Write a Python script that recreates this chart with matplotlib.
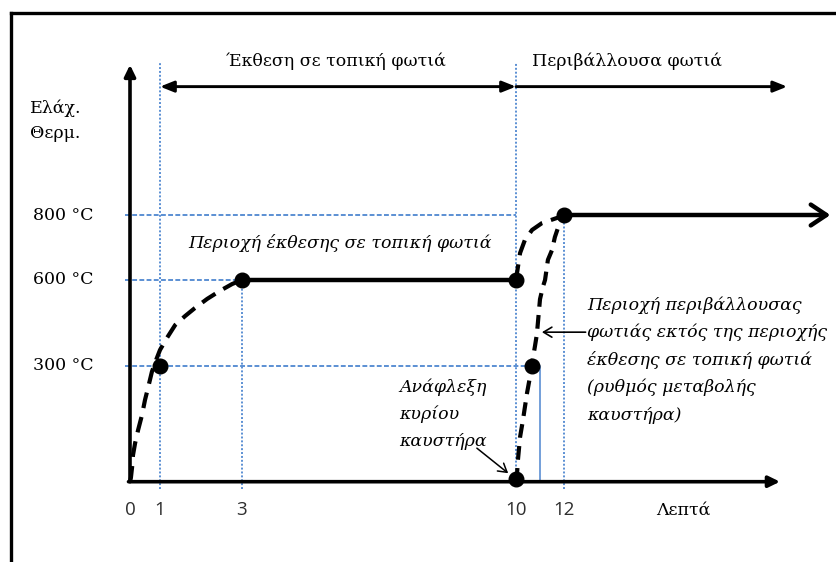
import numpy as np
import matplotlib
matplotlib.use('Agg')
import matplotlib.pyplot as plt
from matplotlib.lines import Line2D
from matplotlib.transforms import blended_transform_factory

# ---------------- data ----------------
minute_ticks = [0, 1, 3, 10, 12]
minute_labels = ['0', '1', '3', '10', '12']
temp_levels = [300, 600, 800]
temp_labels = ['300 °C', '600 °C', '800 °C']

# local fire exposure heating curve (minutes, °C)
local_heat_x = [0.0, 0.03, 0.07, 0.1, 0.17, 0.27, 0.4, 0.5, 0.6, 0.73, 0.87, 1.0,
                1.17, 1.37, 1.61, 1.85, 2.15, 2.46, 2.76, 3.0]
local_heat_y = [0, 10, 38, 69, 100, 134, 173, 212, 243, 285, 321, 356,
                398, 443, 474, 502, 534, 562, 586, 600]
# local plateau
local_plateau_x = [3, 10]
local_plateau_y = [600, 600]
# from local exposure to surrounding fire
local_to_env_x = [10.0, 10.08, 10.17, 10.37, 10.67, 11.08, 11.71, 12.0]
local_to_env_y = [600, 640, 683, 723, 754, 775, 791, 800]
# surrounding fire outside local area (burner ramp)
env_ramp_x = [10.0, 10.04, 10.08, 10.17, 10.29, 10.46, 10.58, 10.65, 10.79, 10.87,
              11.0, 11.12, 11.21, 11.33, 11.5, 11.62, 11.83, 12.0]
env_ramp_y = [0, 17, 56, 116, 160, 230, 271, 300, 369, 411,
              533, 576, 600, 662, 692, 732, 778, 800]
# surrounding plateau (ends in arrow)
env_plateau_x = [12, 23.1]
env_plateau_y = [800, 800]
# key points
key_x = [1, 3, 10, 10, 10.65, 12]
key_y = [300, 600, 600, 8, 300, 800]

# ---------------- scales (piecewise, as drawn) ----------------
W, H = 837, 562


def make_pw(src, dst):
    src = np.asarray(src, float)
    dst = np.asarray(dst, float)
    s0 = (dst[1] - dst[0]) / (src[1] - src[0])
    s1 = (dst[-1] - dst[-2]) / (src[-1] - src[-2])

    def f(v):
        v = np.asarray(v, float)
        out = np.interp(v, src, dst)
        out = np.where(v < src[0], dst[0] + (v - src[0]) * s0, out)
        out = np.where(v > src[-1], dst[-1] + (v - src[-1]) * s1, out)
        return out
    return f


x_knots_px = [130, 160, 242, 516, 564]
y_knots_px = [H - 481.7, H - 366, H - 280, H - 215]
fx = make_pw(minute_ticks, x_knots_px)
fx_inv = make_pw(x_knots_px, minute_ticks)
fy = make_pw([0] + temp_levels, y_knots_px)
fy_inv = make_pw(y_knots_px, [0] + temp_levels)

fig = plt.figure(figsize=(W / 100, H / 100), dpi=100)
ax = fig.add_axes([0, 0, 1, 1])
ax.set_xscale('function', functions=(fx, fx_inv))
ax.set_yscale('function', functions=(fy, fy_inv))
ax.set_xlim(float(fx_inv(0)), float(fx_inv(W)))
ax.set_ylim(float(fy_inv(0)), float(fy_inv(H)))
ax.axis('off')

serif = ['DejaVu Serif']
FS = 12.5
BLUE = '#5b8fd3'

# frame
fig.add_artist(Line2D([11 / W, 11 / W], [0, 1 - 13 / H], color='black', lw=2.4,
                      transform=fig.transFigure))
fig.add_artist(Line2D([11 / W, 1], [1 - 13 / H, 1 - 13 / H], color='black', lw=2.4,
                      transform=fig.transFigure))

# guides
x_left_guide = -0.17
top_guide = 1270
bot_guide = -18
ax.plot([x_left_guide, 10], [800, 800], color=BLUE, lw=1.4, ls=(0, (2.5, 1.2)))
ax.plot([x_left_guide, 3], [600, 600], color=BLUE, lw=1.4, ls=(0, (2.5, 1.2)))
ax.plot([x_left_guide, 10.65], [300, 300], color=BLUE, lw=1.4, ls=(0, (2.5, 1.2)))
ax.plot([1, 1], [bot_guide, top_guide], color=BLUE, lw=1.4, ls=(0, (1, 1)))
ax.plot([3, 3], [bot_guide, 600], color=BLUE, lw=1.4, ls=(0, (1, 1)))
ax.plot([10, 10], [0, top_guide], color=BLUE, lw=1.4, ls=(0, (1, 1)))
ax.plot([12, 12], [bot_guide, 800], color=BLUE, lw=1.4, ls=(0, (1, 1)))
ax.plot([10.65, 11, 11], [300, 300, 0], color=BLUE, lw=1.2)

# axes with arrows
ax.annotate('', xy=(0, 1262), xytext=(0, 0), annotation_clip=False,
            arrowprops=dict(arrowstyle='-|>,head_length=0.45,head_width=0.22',
                            lw=2.6, color='black', mutation_scale=15,
                            shrinkA=0, shrinkB=0))
ax.annotate('', xy=(21, 0), xytext=(-0.05, 0), annotation_clip=False,
            arrowprops=dict(arrowstyle='-|>,head_length=0.45,head_width=0.22',
                            lw=2.6, color='black', mutation_scale=15,
                            shrinkA=0, shrinkB=0))

# top phase arrows
top_arrow_T = 1195
ax.annotate('', xy=(1, top_arrow_T), xytext=(10, top_arrow_T), annotation_clip=False,
            arrowprops=dict(arrowstyle='<|-|>,head_length=0.55,head_width=0.22',
                            lw=2.1, color='black', mutation_scale=15,
                            shrinkA=0, shrinkB=0))
ax.annotate('', xy=(21.3, top_arrow_T), xytext=(10, top_arrow_T), annotation_clip=False,
            arrowprops=dict(arrowstyle='-|>,head_length=0.55,head_width=0.22',
                            lw=2.1, color='black', mutation_scale=15,
                            shrinkA=0, shrinkB=0))

# curves
ax.plot(local_heat_x, local_heat_y, color='black', lw=3, dashes=(3.8, 2.2))
ax.plot(local_plateau_x, local_plateau_y, color='black', lw=3.2, solid_capstyle='butt')
ax.plot(local_to_env_x, local_to_env_y, color='black', lw=3, dashes=(3.8, 2.2))
ax.plot(env_ramp_x, env_ramp_y, color='black', lw=3, dashes=(3.3, 2.0))
ax.annotate('', xy=(env_plateau_x[1], env_plateau_y[1]),
            xytext=(env_plateau_x[0], env_plateau_y[0]), annotation_clip=False,
            arrowprops=dict(arrowstyle='->,head_length=0.75,head_width=0.5',
                            lw=3.2, color='black', mutation_scale=15,
                            shrinkA=0, shrinkB=0))
ax.plot(key_x, key_y, 'o', color='black', ms=10.5, zorder=5)

# tick labels
bx = blended_transform_factory(ax.transData, fig.transFigure)
by = blended_transform_factory(fig.transFigure, ax.transData)
for t, lab in zip(minute_ticks, minute_labels):
    ax.text(t, 1 - 510 / H, lab, transform=bx, ha='center', va='center',
            fontsize=13.5, family=['Open Sans', 'DejaVu Sans'], color='#2e2e2e')
for t, lab in zip(temp_levels, temp_labels):
    ax.text(33 / W, t, lab, transform=by, ha='left', va='center',
            fontsize=FS, family=serif)


def ftext(px, py, s, **kw):
    fig.text(px / W, 1 - py / H, s, fontsize=FS, family=serif, va='center', **kw)


ftext(30, 108, 'Ελάχ.', ha='left')
ftext(30, 134, 'Θερμ.', ha='left')
ftext(683, 510, 'Λεπτά', ha='center')
ftext(336, 61, 'Έκθεση σε τοπική φωτιά', ha='center')
ftext(627, 61, 'Περιβάλλουσα φωτιά', ha='center')
ftext(340, 243, 'Περιοχή έκθεσης σε τοπική φωτιά', ha='center', style='italic')

right_lines = ['Περιοχή περιβάλλουσας', 'φωτιάς εκτός της περιοχής',
               'έκθεσης σε τοπική φωτιά', '(ρυθμός μεταβολής', 'καυστήρα)']
for i, s in enumerate(right_lines):
    ftext(587, 305 + 27.5 * i, s, ha='left', style='italic')
ign_lines = ['Ανάφλεξη', 'κυρίου', 'καυστήρα']
for i, s in enumerate(ign_lines):
    ftext(399, 387 + 27 * i, s, ha='left', style='italic')

# annotation arrows
ax.annotate('', xy=(9.8, 22), xytext=(9.0, 87), annotation_clip=False,
            arrowprops=dict(arrowstyle='->,head_length=0.5,head_width=0.3',
                            lw=1.1, color='black', mutation_scale=12,
                            shrinkA=0, shrinkB=0))
ax.annotate('', xy=(11.08, 418), xytext=(12.9, 418), annotation_clip=False,
            arrowprops=dict(arrowstyle='->,head_length=0.5,head_width=0.3',
                            lw=1.2, color='black', mutation_scale=12,
                            shrinkA=0, shrinkB=0))

fig.savefig('out.png', dpi=100)
